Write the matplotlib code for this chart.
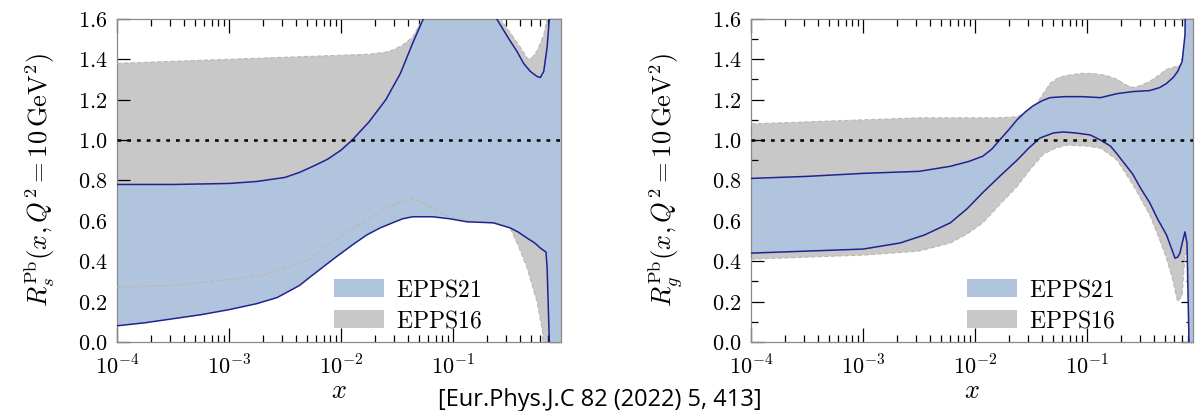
import numpy as np
import matplotlib
matplotlib.use("Agg")
import matplotlib.pyplot as plt
from matplotlib.patches import Patch
from matplotlib.ticker import (FixedLocator, LogLocator, NullFormatter, MultipleLocator,
                               FuncFormatter)

plt.rcParams["mathtext.fontset"] = "cm"

# ---- strange-quark ratio R_s (log10 x, value) ----
s21_up_lx = [-4, -3.5, -3, -2.75, -2.5, -2.37, -2.25, -2.12, -2.0, -1.9, -1.75, -1.6, -1.47,
             -1.36, -1.25, -1.0, -0.8, -0.61, -0.5, -0.43, -0.37, -0.31, -0.25, -0.22, -0.19,
             -0.16, -0.14, -0.12, 0]
s21_up = [0.78, 0.78, 0.785, 0.795, 0.815, 0.84, 0.87, 0.905, 0.95, 1.0, 1.09, 1.2, 1.33,
          1.48, 1.62, 1.9, 1.9, 1.60, 1.50, 1.44, 1.38, 1.34, 1.315, 1.31, 1.34,
          1.46, 1.6, 2.5, 2.5]
s21_lo_lx = [-4, -3.75, -3.5, -3.25, -3, -2.75, -2.57, -2.37, -2.28, -2.07, -1.9, -1.77, -1.65,
             -1.54, -1.45, -1.36, -1.18, -1.03, -0.875, -0.64, -0.49, -0.42, -0.34, -0.27,
             -0.22, -0.17, -0.16, -0.14, -0.12, 0]
s21_lo = [0.08, 0.095, 0.115, 0.135, 0.16, 0.19, 0.22, 0.28, 0.32, 0.41, 0.48, 0.53, 0.565,
          0.59, 0.61, 0.62, 0.62, 0.61, 0.595, 0.59, 0.565, 0.545, 0.515, 0.49,
          0.465, 0.445, 0.37, 0.0, -1, -1]
s16_up_lx = [-4, -3.5, -3, -2.5, -2, -1.75, -1.6, -1.54, -1.45, -1.36, -1.27, -1.0, -0.8,
             -0.58, -0.5, -0.40, -0.33, -0.29, -0.25, -0.19, -0.16, -0.14, 0]
s16_up = [1.38, 1.39, 1.40, 1.41, 1.42, 1.425, 1.435, 1.445, 1.47, 1.51, 1.6, 2.0, 2.0,
          1.60, 1.54, 1.46, 1.40, 1.41, 1.44, 1.52, 1.6, 2.5, 2.5]
s16_lo_lx = [-4, -3.5, -3.17, -2.9, -2.72, -2.55, -2.37, -2.28, -2.07, -1.9, -1.77, -1.65,
             -1.54, -1.45, -1.36, -1.27, -1.18, -1.03, -0.875, -0.64, -0.49, -0.42, -0.34,
             -0.25, -0.20, -0.17, 0]
s16_lo = [0.27, 0.28, 0.30, 0.315, 0.33, 0.355, 0.39, 0.41, 0.50, 0.56, 0.60, 0.645,
          0.68, 0.70, 0.71, 0.69, 0.66, 0.62, 0.60, 0.59, 0.565, 0.48, 0.37,
          0.20, 0.05, -1, -1]

# ---- gluon ratio R_g ----
g21_up_lx = [-4, -3.5, -3, -2.5, -2.22, -2.05, -1.93, -1.85, -1.78, -1.7, -1.625, -1.55, -1.48,
             -1.4, -1.33, -1.2, -1.04, -0.88, -0.73, -0.59, -0.44, -0.35, -0.29, -0.23, -0.19,
             -0.15, -0.125, -0.10, 0]
g21_up = [0.81, 0.82, 0.835, 0.845, 0.87, 0.895, 0.92, 0.955, 1.0, 1.05, 1.10, 1.14, 1.17,
          1.195, 1.21, 1.215, 1.215, 1.21, 1.23, 1.24, 1.245, 1.26, 1.28, 1.31, 1.34,
          1.39, 1.52, 2.5, 2.5]
g21_lo_lx = [-4, -3.5, -3, -2.67, -2.45, -2.22, -2.07, -1.93, -1.78, -1.625, -1.52, -1.42,
             -1.3, -1.21, -1.1, -0.97, -0.88, -0.79, -0.73, -0.66, -0.59, -0.52, -0.44, -0.37,
             -0.29, -0.25, -0.214, -0.19, -0.17, -0.145, -0.125, -0.107, -0.089, 0]
g21_lo = [0.44, 0.45, 0.46, 0.49, 0.53, 0.59, 0.66, 0.74, 0.82, 0.90, 0.96, 1.01,
          1.035, 1.04, 1.035, 1.025, 1.0, 0.97, 0.93, 0.88, 0.83, 0.76, 0.69, 0.61,
          0.53, 0.47, 0.415, 0.42, 0.44, 0.50, 0.545, 0.49, 0.0, -1]
g16_up_lx = [-4, -3.5, -3, -2.5, -2.22, -1.8, -1.625, -1.53, -1.45, -1.39, -1.33, -1.25, -1.18,
             -1.05, -0.95, -0.83, -0.73, -0.66, -0.59, -0.52, -0.44, -0.36, -0.29, -0.17, 0]
g16_up = [1.08, 1.09, 1.10, 1.11, 1.11, 1.11, 1.115, 1.14, 1.18, 1.23, 1.28, 1.31, 1.32,
          1.33, 1.33, 1.32, 1.30, 1.275, 1.26, 1.27, 1.29, 1.32, 1.35, 1.37, 1.40]
g16_lo_lx = [-4, -3.5, -3, -2.5, -2.22, -2.07, -1.93, -1.78, -1.625, -1.5, -1.39, -1.28, -1.18,
             -1.0, -0.88, -0.8, -0.73, -0.66, -0.59, -0.52, -0.44, -0.36, -0.29, -0.24,
             -0.19, -0.15, -0.125, -0.10, -0.05, 0]
g16_lo = [0.41, 0.42, 0.43, 0.45, 0.49, 0.535, 0.59, 0.68, 0.77, 0.86, 0.93, 0.96, 0.975,
          0.97, 0.96, 0.93, 0.90, 0.84, 0.78, 0.71, 0.63, 0.52, 0.415, 0.32,
          0.20, 0.23, 0.43, 0.45, -1, -1]

xtick_vals = [1e-4, 1e-3, 1e-2, 1e-1]
xtick_labels = [r"$10^{-4}$", r"$10^{-3}$", r"$10^{-2}$", r"$10^{-1}$"]
legend_labels = [r"$\mathrm{EPPS21}$", r"$\mathrm{EPPS16}$"]
caption = "[Eur.Phys.J.C 82 (2022) 5, 413]"

BLUE = "#b0c4de"
GRAY = "#c8c8c8"
NAVY = "#22228f"


def band(ax, up_lx, up, lo_lx, lo, color, z):
    xu = 10 ** np.asarray(up_lx, float)
    xl = 10 ** np.asarray(lo_lx, float)
    ax.fill(np.r_[xu, xl[::-1]], np.r_[up, lo[::-1]], color=color, lw=0, zorder=z)
    return xu, xl


def panel(ax, d21, d16, ylabel, xmax, minor_y, label_x):
    xu16, xl16 = band(ax, *d16, GRAY, 1)
    xu21, xl21 = band(ax, *d21, BLUE, 2)
    ax.plot(xu16, d16[1], color="#b8b8b8", lw=0.8, ls=(0, (4, 2)), zorder=3)
    ax.plot(xl16, d16[3], color="#c0b6aa", lw=0.8, ls=(0, (4, 2)), zorder=3)
    ax.plot(xu21, d21[1], color=NAVY, lw=1.1, zorder=4)
    ax.plot(xl21, d21[3], color=NAVY, lw=1.1, zorder=4)
    ax.axhline(1.0, color="black", lw=1.8, ls=(0, (1.5, 2.4)), zorder=5)

    ax.set_xscale("log")
    ax.set_xlim(1e-4, xmax)
    ax.set_ylim(0, 1.6)
    ax.xaxis.set_major_locator(FixedLocator(xtick_vals))
    ax.set_xticklabels(xtick_labels)
    ax.xaxis.set_minor_locator(LogLocator(base=10, subs=np.arange(2, 10)))
    ax.xaxis.set_minor_formatter(NullFormatter())
    ax.yaxis.set_major_locator(MultipleLocator(0.2))
    ax.yaxis.set_major_formatter(FuncFormatter(lambda v, p: r"$%.1f$" % v))
    if minor_y:
        ax.yaxis.set_minor_locator(MultipleLocator(0.1))
    ax.tick_params(which="both", direction="in", top=True, right=True, colors="black",
                   labelsize=16, width=0.9)
    ax.tick_params(axis="x", which="major", length=10, pad=9)
    ax.tick_params(axis="x", which="minor", length=5)
    ax.tick_params(axis="y", which="major", length=9, pad=7)
    ax.tick_params(axis="y", which="minor", length=5)
    for sp in ax.spines.values():
        sp.set_color("#8a8a8a")
        sp.set_linewidth(0.9)
    ax.set_xlabel(r"$x$", fontsize=19, labelpad=0)
    ax.set_ylabel(ylabel, fontsize=19)
    ax.yaxis.set_label_coords(label_x, 0.5)
    handles = [Patch(facecolor=BLUE, edgecolor="none"), Patch(facecolor=GRAY, edgecolor="none")]
    ax.legend(handles, legend_labels, loc="lower left", bbox_to_anchor=(0.489, 0.03),
              frameon=False, fontsize=17, handlelength=2.1, handleheight=0.75,
              handletextpad=0.5, labelspacing=0.3, borderpad=0, borderaxespad=0)


fig = plt.figure(figsize=(12.03, 4.11), dpi=100)
ax1 = fig.add_axes([0.0973, 0.168, 0.369, 0.786])
ax2 = fig.add_axes([0.6243, 0.168, 0.3674, 0.786])

panel(ax1, (s21_up_lx, np.array(s21_up), s21_lo_lx, np.array(s21_lo)),
      (s16_up_lx, np.array(s16_up), s16_lo_lx, np.array(s16_lo)),
      r"$R_{s}^{\rm Pb}(x, Q^2 = 10\,{\rm GeV}^2)$", 0.92, False, -0.135)
panel(ax2, (g21_up_lx, np.array(g21_up), g21_lo_lx, np.array(g21_lo)),
      (g16_up_lx, np.array(g16_up), g16_lo_lx, np.array(g16_lo)),
      r"$R_{g}^{\rm Pb}(x, Q^2 = 10\,{\rm GeV}^2)$", 0.885, True, -0.149)

fig.text(0.499, 0.012, caption, ha="center", va="baseline", fontsize=17,
         family=["Open Sans", "DejaVu Sans"])

fig.savefig("out.png", dpi=100)
